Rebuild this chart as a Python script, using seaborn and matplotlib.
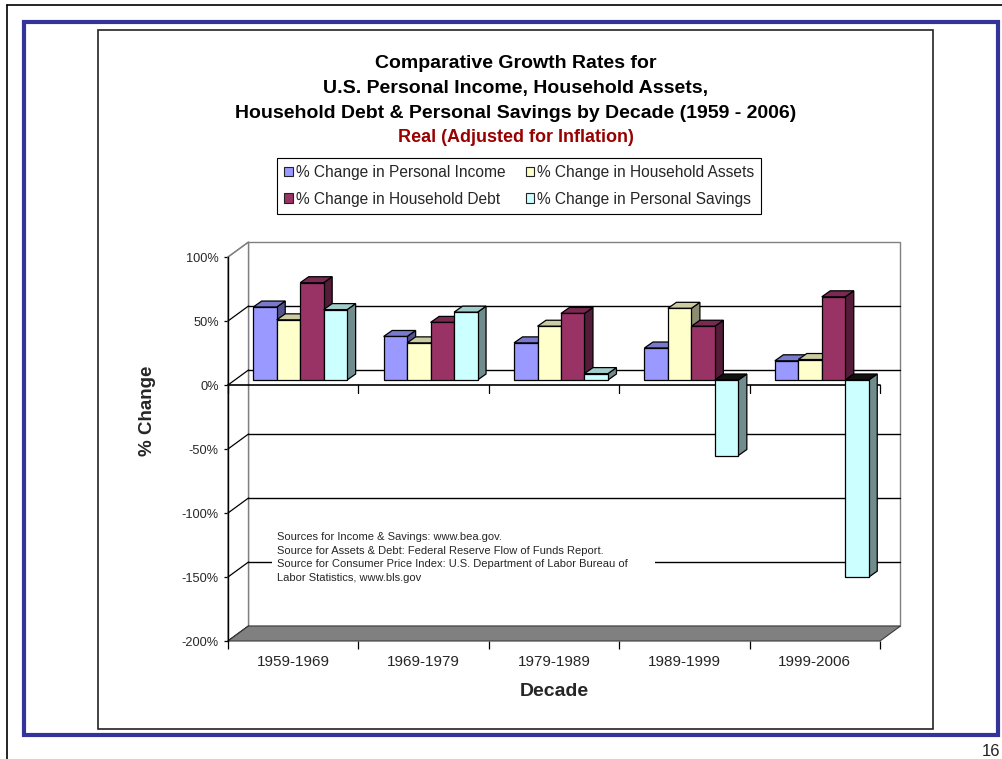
import numpy as np
import pandas as pd
import matplotlib
matplotlib.use("Agg")
import matplotlib.pyplot as plt
from matplotlib.patches import Polygon, Rectangle, Patch
from matplotlib.lines import Line2D
from matplotlib.ticker import FixedLocator, FuncFormatter
from matplotlib.colors import to_rgb
from matplotlib import font_manager
import seaborn as sns

# ---------------- data ----------------
decades = ["1959-1969", "1969-1979", "1979-1989", "1989-1999", "1999-2006"]
series = ["% Change in Personal Income", "% Change in Household Assets",
          "% Change in Household Debt", "% Change in Personal Savings"]
income = [57, 34, 29, 25, 15]
assets = [47, 29, 42, 56, 16]
debt = [76, 45, 52, 42, 65]
savings = [55, 53, 5, -59, -154]
colors = ["#9999FF", "#FFFFCC", "#993366", "#CCFFFF"]
y_ticks = [100, 50, 0, -50, -100, -150, -200]

title_lines = ["Comparative Growth Rates for",
               "U.S. Personal Income, Household Assets,",
               "Household Debt & Personal Savings by Decade (1959 - 2006)"]
subtitle = "Real (Adjusted for Inflation)"
source_note = ("Sources for Income & Savings: www.bea.gov.\n"
               "Source for Assets & Debt: Federal Reserve Flow of Funds Report.\n"
               "Source for Consumer Price Index: U.S. Department of Labor Bureau of\n"
               "Labor Statistics, www.bls.gov")
page_number = "16"

# ---------------- figure ----------------
W, H = 1003, 759
sns.set_theme(style="white")
plt.rcParams["font.family"] = ["Liberation Sans", "DejaVu Sans"]
installed = {f.name for f in font_manager.fontManager.ttflist}
note_family = "Liberation Sans Narrow" if "Liberation Sans Narrow" in installed else "Liberation Sans"
note_size = 9 if note_family == "Liberation Sans Narrow" else 8


def fx(px):
    return px / W


def fy(py):
    return 1 - py / H


fig = plt.figure(figsize=(W / 100, H / 100), dpi=100)
fig.patch.set_facecolor("white")

# slide border, blue frame, chart-area border
fig.add_artist(Line2D([fx(7), fx(1003)], [fy(4.5), fy(4.5)], color="black", lw=1.2,
                      transform=fig.transFigure))
fig.add_artist(Line2D([fx(7), fx(7)], [fy(4.5), fy(759)], color="black", lw=1.2,
                      transform=fig.transFigure))
fig.add_artist(Rectangle((fx(24.5), fy(735)), fx(998.5) - fx(24.5), fy(22) - fy(735),
                         fill=False, edgecolor="#333399", lw=3.0, transform=fig.transFigure))
fig.add_artist(Rectangle((fx(98), fy(729)), fx(933) - fx(98), fy(29.5) - fy(729),
                         fill=False, edgecolor="#222222", lw=1.2, transform=fig.transFigure))
fig.text(fx(1000), fy(751), page_number, ha="right", va="center", fontsize=12, color="#222222")

# front plane of the plot box
ax = fig.add_axes([fx(228), fy(641), fx(880) - fx(228), fy(257) - fy(641)])
ax.set_facecolor("none")

df = pd.DataFrame({"Decade": decades, series[0]: income, series[1]: assets,
                   series[2]: debt, series[3]: savings})
long_df = df.melt(id_vars="Decade", var_name="Series", value_name="Change")

sns.barplot(data=long_df, x="Decade", y="Change", hue="Series", hue_order=series,
            order=decades, palette=colors, saturation=1, width=0.72,
            edgecolor="black", linewidth=0.9, legend=False, ax=ax)

ax.set_xlim(-0.5, 4.5)
ax.set_ylim(-200, 100)

p0 = ax.transData.transform((0, 0))
p1 = ax.transData.transform((1, 1))
ux = p1[0] - p0[0]   # pixels per category
uy = p1[1] - p0[1]   # pixels per percent


def shift(pt, dx, dy):
    return (pt[0] + dx / ux, pt[1] + dy / uy)


DEPTH = (20.5, 15)     # full depth of the box (px)
PLANE = (7, 5)         # plane on which the columns stand (px)
BAR = (8.5, 6)         # depth of each column (px)
x0, x1, ylo, yhi = -0.5, 4.5, -200, 100

# walls
back = [shift((x0, ylo), *DEPTH), shift((x1, ylo), *DEPTH),
        shift((x1, yhi), *DEPTH), shift((x0, yhi), *DEPTH)]
ax.add_patch(Polygon(back, closed=True, facecolor="white", edgecolor="#808080",
                     lw=1.0, zorder=1, clip_on=False))
left = [(x0, ylo), (x0, yhi), shift((x0, yhi), *DEPTH), shift((x0, ylo), *DEPTH)]
ax.add_patch(Polygon(left, closed=True, facecolor="white", edgecolor="#808080",
                     lw=1.0, zorder=1, clip_on=False))
for v in y_ticks:
    if ylo < v < yhi:
        a, b = shift((x0, v), *DEPTH), shift((x1, v), *DEPTH)
        ax.add_line(Line2D([a[0], b[0]], [a[1], b[1]], color="black", lw=1.0,
                           zorder=2, clip_on=False))
    c = shift((x0, v), *DEPTH)
    ax.add_line(Line2D([x0, c[0]], [v, c[1]], color="black" if v < yhi else "#808080",
                       lw=0.9, zorder=2, clip_on=False))

floor = [(x0, ylo), (x1, ylo), shift((x1, ylo), *DEPTH), shift((x0, ylo), *DEPTH)]
ax.add_patch(Polygon(floor, closed=True, facecolor="#808080", edgecolor="#3a3a3a",
                     lw=0.8, zorder=3, clip_on=False))

# zero line with category separators
ax.add_line(Line2D([x0, x1], [0, 0], color="black", lw=1.2, zorder=4, clip_on=False))
for xb in np.arange(-0.5, 5.0, 1.0):
    ax.add_line(Line2D([xb, xb], [0, -8 / uy], color="black", lw=0.9, zorder=4,
                       clip_on=False))

# columns: shift onto their plane and add top/side faces
bars = sorted([p for p in ax.patches if isinstance(p, Rectangle)
               and p.get_width() > 0 and p.get_facecolor()[3] > 0 and p.get_zorder() < 5
               and p.get_x() > -0.5], key=lambda p: p.get_x())


def shade(c, k):
    r, g, b = to_rgb(c)
    return (r * k, g * k, b * k)


ddx, ddy = BAR[0] / ux, BAR[1] / uy
for i, p in enumerate(bars):
    p.set_x(p.get_x() + PLANE[0] / ux)
    p.set_y(p.get_y() + PLANE[1] / uy)
    L = p.get_x()
    R = L + p.get_width()
    base = p.get_y()
    end = base + p.get_height()
    fc = p.get_facecolor()
    zb = 10 + 3 * i
    side = [(R, base), (R, end), (R + ddx, end + ddy), (R + ddx, base + ddy)]
    if end >= base:
        top = [(L, end), (R, end), (R + ddx, end + ddy), (L + ddx, end + ddy)]
        top_c = shade(fc, 0.8)
    else:
        top = [(L, base), (R, base), (R + ddx, base + ddy), (L + ddx, base + ddy)]
        top_c = "#111111"
    ax.add_patch(Polygon(side, closed=True, facecolor=shade(fc, 0.55), edgecolor="black",
                         lw=0.9, zorder=zb, clip_on=False))
    ax.add_patch(Polygon(top, closed=True, facecolor=top_c, edgecolor="black",
                         lw=0.9, zorder=zb + 1, clip_on=False))
    p.set_zorder(zb + 2)
    p.set_clip_on(False)

# axes styling
for s in ["top", "right", "bottom"]:
    ax.spines[s].set_visible(False)
ax.spines["left"].set_color("black")
ax.spines["left"].set_linewidth(1.0)
ax.spines["left"].set_zorder(20)
ax.yaxis.set_major_locator(FixedLocator(y_ticks))
ax.yaxis.set_major_formatter(FuncFormatter(lambda v, pos: f"{v:.0f}%"))
ax.tick_params(axis="y", which="major", direction="out", length=3.2, width=0.9,
               color="black", labelsize=9.2, pad=3.5, left=True)
ax.set_xticks(range(len(decades)))
ax.set_xticklabels(decades)
ax.set_xticks(np.arange(-0.5, 5.0, 1.0), minor=True)
ax.tick_params(axis="x", which="major", length=0, labelsize=11, pad=10)
ax.tick_params(axis="x", which="minor", direction="out", length=6, width=0.9,
               color="black", bottom=True)
ax.set_xlabel("")
ax.set_ylabel("")
ax.grid(False)

fig.text(fx(554), fy(691), "Decade", ha="center", va="center", fontsize=14,
         fontweight="bold")
fig.text(fx(147), fy(411), "% Change", ha="center", va="center", fontsize=13.5,
         fontweight="bold", rotation=90)

# titles
for k, line in enumerate(title_lines):
    fig.text(fx(515.5), fy(63.5 + 25 * k), line, ha="center", va="center", fontsize=14,
             fontweight="bold", color="black")
fig.text(fx(515.5), fy(138), subtitle, ha="center", va="center", fontsize=13,
         fontweight="bold", color="#990000")

# legend
handles = [Patch(facecolor=c, edgecolor="#222222", lw=0.8) for c in colors]
order = [0, 2, 1, 3]
leg = fig.legend([handles[i] for i in order], [series[i] for i in order],
                 loc="upper left", bbox_to_anchor=(fx(277), fy(158)), ncol=2,
                 frameon=True, fancybox=False, edgecolor="black", framealpha=1,
                 fontsize=11.2, handlelength=0.55, handleheight=0.55, handletextpad=0.2,
                 columnspacing=1.3, borderpad=0.45, labelspacing=0.75, borderaxespad=0)
leg.get_frame().set_linewidth(0.8)

# source note on a white box across the lower gridline
fig.add_artist(Rectangle((fx(272), fy(589)), fx(655) - fx(272), fy(528) - fy(589),
                         facecolor="white", edgecolor="none", zorder=5,
                         transform=fig.transFigure))
fig.text(fx(277), fy(532), source_note, ha="left", va="top", fontsize=note_size,
         family=note_family, linespacing=1.45, zorder=6)

fig.savefig("out.png", dpi=100)
